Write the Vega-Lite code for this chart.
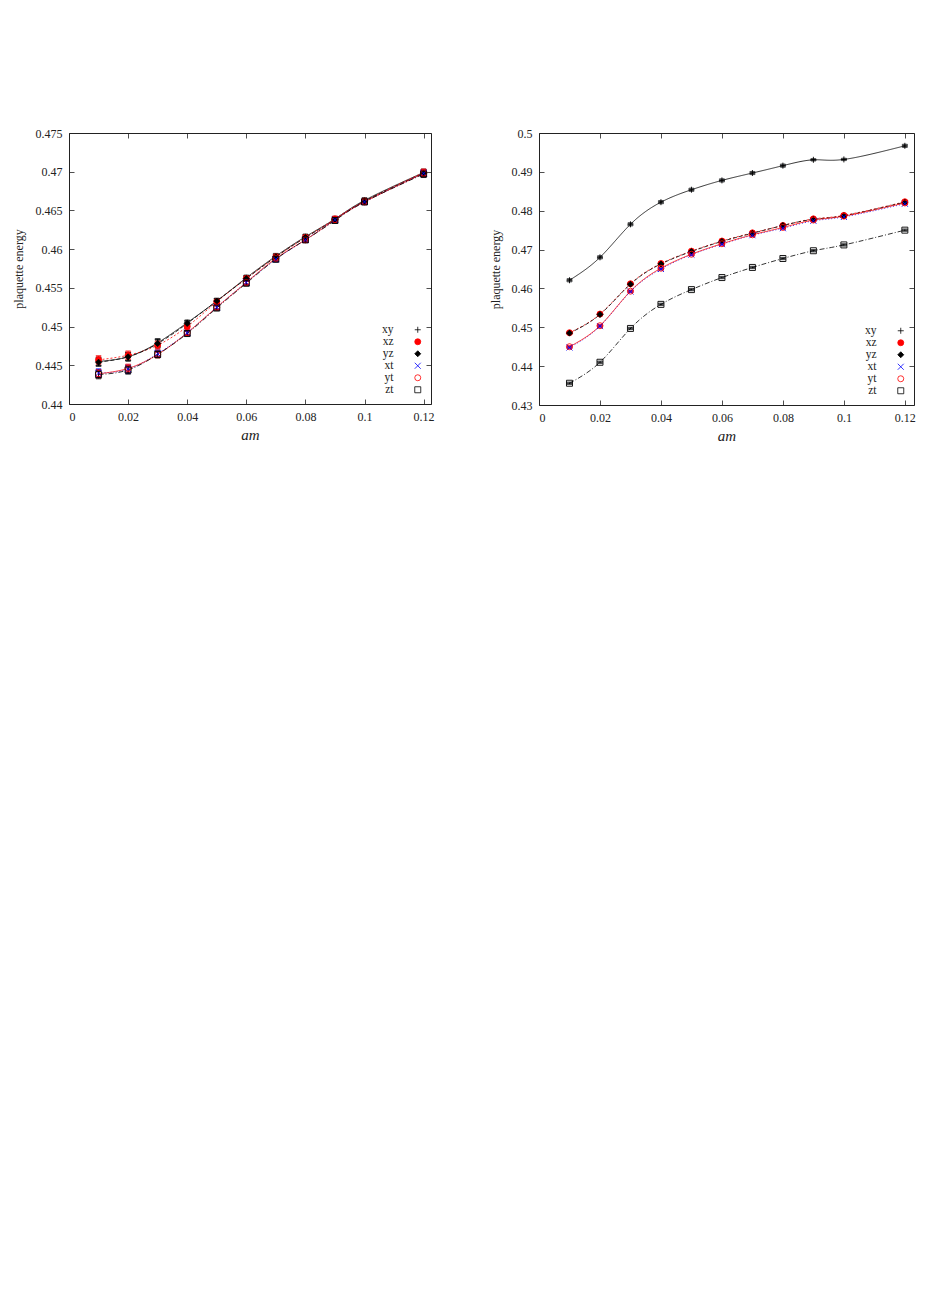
{
"$schema": "https://vega.github.io/schema/vega-lite/v6.json",
"padding": {"left": 11, "top": 126, "right": 5, "bottom": 5},
"spacing": 53,
"resolve": {"scale": {"color": "independent", "shape": "independent", "fill": "independent", "stroke": "independent", "strokeDash": "independent"}},
"config": {
  "font": "Liberation Serif",
  "view": {"stroke": "#222", "strokeWidth": 1},
  "axis": {"grid": false, "domain": false, "tickColor": "#222", "tickSize": -5, "tickWidth": 0.8, "labelFont": "Liberation Serif", "labelFontSize": 12, "labelColor": "#222", "labelPadding": 12, "titleFont": "Liberation Serif", "titleFontSize": 12, "titleFontWeight": "normal", "titleColor": "#222"},
  "legend": {"labelFont": "Liberation Serif", "labelFontSize": 12, "labelColor": "#222"}
},
"datasets": {
"L": [
{"s":"xy","am":0.01,"e":0.4455,"err":0.0005},{"s":"xy","am":0.02,"e":0.4461,"err":0.0005},{"s":"xy","am":0.03,"e":0.4479,"err":0.0005},{"s":"xy","am":0.04,"e":0.4505,"err":0.0003},{"s":"xy","am":0.05,"e":0.4533,"err":0.0003},{"s":"xy","am":0.06,"e":0.4563,"err":0.0003},{"s":"xy","am":0.07,"e":0.4591,"err":0.0003},{"s":"xy","am":0.08,"e":0.4616,"err":0.0003},{"s":"xy","am":0.09,"e":0.4639,"err":0.0003},{"s":"xy","am":0.10,"e":0.4663,"err":0.0003},{"s":"xy","am":0.12,"e":0.4699,"err":0.0004},
{"s":"xz","am":0.01,"e":0.4457,"err":0.0005},{"s":"xz","am":0.02,"e":0.4463,"err":0.0005},{"s":"xz","am":0.03,"e":0.4476,"err":0.0005},{"s":"xz","am":0.04,"e":0.4500,"err":0.0003},{"s":"xz","am":0.05,"e":0.4532,"err":0.0003},{"s":"xz","am":0.06,"e":0.4562,"err":0.0003},{"s":"xz","am":0.07,"e":0.4590,"err":0.0003},{"s":"xz","am":0.08,"e":0.4615,"err":0.0003},{"s":"xz","am":0.09,"e":0.4639,"err":0.0003},{"s":"xz","am":0.10,"e":0.4662,"err":0.0003},{"s":"xz","am":0.12,"e":0.4699,"err":0.0004},
{"s":"yz","am":0.01,"e":0.4454,"err":0.0005},{"s":"yz","am":0.02,"e":0.4461,"err":0.0005},{"s":"yz","am":0.03,"e":0.4478,"err":0.0005},{"s":"yz","am":0.04,"e":0.4504,"err":0.0003},{"s":"yz","am":0.05,"e":0.4533,"err":0.0003},{"s":"yz","am":0.06,"e":0.4562,"err":0.0003},{"s":"yz","am":0.07,"e":0.4590,"err":0.0003},{"s":"yz","am":0.08,"e":0.4615,"err":0.0003},{"s":"yz","am":0.09,"e":0.4638,"err":0.0003},{"s":"yz","am":0.10,"e":0.4662,"err":0.0003},{"s":"yz","am":0.12,"e":0.4698,"err":0.0004},
{"s":"xt","am":0.01,"e":0.4440,"err":0.0005},{"s":"xt","am":0.02,"e":0.4445,"err":0.0005},{"s":"xt","am":0.03,"e":0.4465,"err":0.0004},{"s":"xt","am":0.04,"e":0.4492,"err":0.0003},{"s":"xt","am":0.05,"e":0.4525,"err":0.0003},{"s":"xt","am":0.06,"e":0.4557,"err":0.0003},{"s":"xt","am":0.07,"e":0.4587,"err":0.0003},{"s":"xt","am":0.08,"e":0.4612,"err":0.0003},{"s":"xt","am":0.09,"e":0.4638,"err":0.0003},{"s":"xt","am":0.10,"e":0.4661,"err":0.0003},{"s":"xt","am":0.12,"e":0.4698,"err":0.0004},
{"s":"yt","am":0.01,"e":0.4439,"err":0.0005},{"s":"yt","am":0.02,"e":0.4446,"err":0.0005},{"s":"yt","am":0.03,"e":0.4464,"err":0.0004},{"s":"yt","am":0.04,"e":0.4492,"err":0.0003},{"s":"yt","am":0.05,"e":0.4525,"err":0.0003},{"s":"yt","am":0.06,"e":0.4557,"err":0.0003},{"s":"yt","am":0.07,"e":0.4588,"err":0.0003},{"s":"yt","am":0.08,"e":0.4612,"err":0.0003},{"s":"yt","am":0.09,"e":0.4638,"err":0.0003},{"s":"yt","am":0.10,"e":0.4661,"err":0.0003},{"s":"yt","am":0.12,"e":0.4698,"err":0.0004},
{"s":"zt","am":0.01,"e":0.4438,"err":0.0005},{"s":"zt","am":0.02,"e":0.4444,"err":0.0005},{"s":"zt","am":0.03,"e":0.4464,"err":0.0004},{"s":"zt","am":0.04,"e":0.4491,"err":0.0003},{"s":"zt","am":0.05,"e":0.4524,"err":0.0003},{"s":"zt","am":0.06,"e":0.4556,"err":0.0003},{"s":"zt","am":0.07,"e":0.4587,"err":0.0003},{"s":"zt","am":0.08,"e":0.4612,"err":0.0003},{"s":"zt","am":0.09,"e":0.4637,"err":0.0003},{"s":"zt","am":0.10,"e":0.4661,"err":0.0003},{"s":"zt","am":0.12,"e":0.4697,"err":0.0004}
],
"R": [
{"s":"xy","am":0.01,"e":0.4621,"err":0.0003},{"s":"xy","am":0.02,"e":0.4680,"err":0.0003},{"s":"xy","am":0.03,"e":0.4765,"err":0.0003},{"s":"xy","am":0.04,"e":0.4822,"err":0.0003},{"s":"xy","am":0.05,"e":0.4854,"err":0.0003},{"s":"xy","am":0.06,"e":0.4878,"err":0.0003},{"s":"xy","am":0.07,"e":0.4897,"err":0.0003},{"s":"xy","am":0.08,"e":0.4916,"err":0.0003},{"s":"xy","am":0.09,"e":0.4931,"err":0.0002},{"s":"xy","am":0.10,"e":0.4932,"err":0.0002},{"s":"xy","am":0.12,"e":0.4967,"err":0.0003},
{"s":"xz","am":0.01,"e":0.4486,"err":0.0002},{"s":"xz","am":0.02,"e":0.4534,"err":0.0002},{"s":"xz","am":0.03,"e":0.4612,"err":0.0002},{"s":"xz","am":0.04,"e":0.4664,"err":0.0002},{"s":"xz","am":0.05,"e":0.4696,"err":0.0002},{"s":"xz","am":0.06,"e":0.4722,"err":0.0002},{"s":"xz","am":0.07,"e":0.4743,"err":0.0002},{"s":"xz","am":0.08,"e":0.4762,"err":0.0002},{"s":"xz","am":0.09,"e":0.4779,"err":0.0002},{"s":"xz","am":0.10,"e":0.4788,"err":0.0002},{"s":"xz","am":0.12,"e":0.4823,"err":0.0002},
{"s":"yz","am":0.01,"e":0.4485,"err":0.0002},{"s":"yz","am":0.02,"e":0.4533,"err":0.0002},{"s":"yz","am":0.03,"e":0.4611,"err":0.0002},{"s":"yz","am":0.04,"e":0.4663,"err":0.0002},{"s":"yz","am":0.05,"e":0.4695,"err":0.0002},{"s":"yz","am":0.06,"e":0.4721,"err":0.0002},{"s":"yz","am":0.07,"e":0.4742,"err":0.0002},{"s":"yz","am":0.08,"e":0.4762,"err":0.0002},{"s":"yz","am":0.09,"e":0.4778,"err":0.0002},{"s":"yz","am":0.10,"e":0.4787,"err":0.0002},{"s":"yz","am":0.12,"e":0.4822,"err":0.0002},
{"s":"xt","am":0.01,"e":0.4448,"err":0.0002},{"s":"xt","am":0.02,"e":0.4503,"err":0.0002},{"s":"xt","am":0.03,"e":0.4592,"err":0.0002},{"s":"xt","am":0.04,"e":0.4650,"err":0.0002},{"s":"xt","am":0.05,"e":0.4687,"err":0.0002},{"s":"xt","am":0.06,"e":0.4714,"err":0.0002},{"s":"xt","am":0.07,"e":0.4737,"err":0.0002},{"s":"xt","am":0.08,"e":0.4755,"err":0.0002},{"s":"xt","am":0.09,"e":0.4774,"err":0.0002},{"s":"xt","am":0.10,"e":0.4784,"err":0.0002},{"s":"xt","am":0.12,"e":0.4818,"err":0.0002},
{"s":"yt","am":0.01,"e":0.4450,"err":0.0002},{"s":"yt","am":0.02,"e":0.4504,"err":0.0002},{"s":"yt","am":0.03,"e":0.4593,"err":0.0002},{"s":"yt","am":0.04,"e":0.4652,"err":0.0002},{"s":"yt","am":0.05,"e":0.4688,"err":0.0002},{"s":"yt","am":0.06,"e":0.4715,"err":0.0002},{"s":"yt","am":0.07,"e":0.4738,"err":0.0002},{"s":"yt","am":0.08,"e":0.4757,"err":0.0002},{"s":"yt","am":0.09,"e":0.4776,"err":0.0002},{"s":"yt","am":0.10,"e":0.4786,"err":0.0002},{"s":"yt","am":0.12,"e":0.4820,"err":0.0002},
{"s":"zt","am":0.01,"e":0.4356,"err":0.0002},{"s":"zt","am":0.02,"e":0.4410,"err":0.0002},{"s":"zt","am":0.03,"e":0.4497,"err":0.0002},{"s":"zt","am":0.04,"e":0.4559,"err":0.0002},{"s":"zt","am":0.05,"e":0.4597,"err":0.0002},{"s":"zt","am":0.06,"e":0.4628,"err":0.0002},{"s":"zt","am":0.07,"e":0.4654,"err":0.0002},{"s":"zt","am":0.08,"e":0.4677,"err":0.0002},{"s":"zt","am":0.09,"e":0.4697,"err":0.0002},{"s":"zt","am":0.10,"e":0.4712,"err":0.0002},{"s":"zt","am":0.12,"e":0.4750,"err":0.0002}
]
},
"hconcat": [
{
 "width": 362, "height": 271,
 "data": {"name": "L"},
 "resolve": {"axis": {"x": "independent", "y": "independent"}},
 "layer": [
  {"mark": {"type": "line", "interpolate": "natural", "strokeWidth": 0.8},
   "encoding": {
    "x": {"field": "am", "type": "quantitative", "scale": {"domain": [0, 0.1225], "nice": false}, "axis": {"orient": "bottom", "values": [0,0.02,0.04,0.06,0.08,0.1,0.12], "format": ".2~f", "title": "am", "titleFontStyle": "italic", "titleFontSize": 15, "titlePadding": 5}},
    "y": {"field": "e", "type": "quantitative", "scale": {"domain": [0.44, 0.475], "nice": false, "zero": false}, "axis": {"orient": "left", "values": [0.44,0.445,0.45,0.455,0.46,0.465,0.47,0.475], "format": ".3~f", "title": "plaquette energy", "titlePadding": 10}},
    "stroke": {"field": "s", "type": "nominal", "scale": {"domain": ["zt","yt","xt","yz","xz","xy"], "range": ["#000000","#ff0000","#0000ff","#000000","#ff0000","#000000"]}, "legend": null},
    "strokeDash": {"field": "s", "type": "nominal", "scale": {"domain": ["zt","yt","xt","yz","xz","xy"], "range": [[5,2,1,2],[1,0],[1,2],[4,2],[2,2],[1,0]]}, "legend": null}
   }},
  {"mark": {"type": "point", "opacity": 0},
   "encoding": {
    "x": {"field": "am", "type": "quantitative", "scale": {"domain": [0, 0.1225], "nice": false}, "axis": {"orient": "top", "values": [0,0.02,0.04,0.06,0.08,0.1,0.12], "labels": false, "title": null}},
    "y": {"field": "e", "type": "quantitative", "scale": {"domain": [0.44, 0.475], "nice": false, "zero": false}, "axis": {"orient": "right", "values": [0.44,0.445,0.45,0.455,0.46,0.465,0.47,0.475], "labels": false, "title": null}}
   }},
  {"mark": {"type": "errorbar", "ticks": {"size": 5}, "thickness": 0.8},
   "encoding": {
    "x": {"field": "am", "type": "quantitative", "scale": {"domain": [0, 0.1225], "nice": false}, "axis": null},
    "y": {"field": "e", "type": "quantitative", "scale": {"domain": [0.44, 0.475], "nice": false, "zero": false}, "axis": null},
    "yError": {"field": "err"},
    "stroke": {"field": "s", "type": "nominal", "scale": {"domain": ["zt","yt","xt","yz","xz","xy"], "range": ["#000000","#ff0000","#0000ff","#000000","#ff0000","#000000"]}, "legend": null}
   }},
  {"mark": {"type": "point", "filled": false, "size": 36, "strokeWidth": 0.9, "opacity": 1},
   "encoding": {
    "x": {"field": "am", "type": "quantitative", "scale": {"domain": [0, 0.1225], "nice": false}, "axis": null},
    "y": {"field": "e", "type": "quantitative", "scale": {"domain": [0.44, 0.475], "nice": false, "zero": false}, "axis": null},
    "color": {"field": "s", "type": "nominal", "scale": {"domain": ["xy","xz","yz","xt","yt","zt"], "range": ["#000000","#ff0000","#000000","#0000ff","#ff0000","#000000"]},
      "legend": {"title": null, "orient": "bottom-right", "offset": 8, "symbolSize": 36, "symbolStrokeWidth": 0.8, "labelAlign": "right", "labelOffset": -30, "rowPadding": -1, "labelFontSize": 11.5}},
    "shape": {"field": "s", "type": "nominal", "scale": {"domain": ["xy","xz","yz","xt","yt","zt"], "range": ["M-1,0H1M0,-1V1","circle","diamond","M-1,-1L1,1M-1,1L1,-1","circle","square"]}},
    "fill": {"field": "s", "type": "nominal", "scale": {"domain": ["xy","xz","yz","xt","yt","zt"], "range": ["transparent","#ff0000","#000000","transparent","transparent","transparent"]}}
   }}
 ]
},
{
 "width": 375, "height": 272,
 "data": {"name": "R"},
 "resolve": {"axis": {"x": "independent", "y": "independent"}},
 "layer": [
  {"mark": {"type": "line", "interpolate": "natural", "strokeWidth": 0.8},
   "encoding": {
    "x": {"field": "am", "type": "quantitative", "scale": {"domain": [0, 0.123], "nice": false}, "axis": {"orient": "bottom", "values": [0,0.02,0.04,0.06,0.08,0.1,0.12], "format": ".2~f", "title": "am", "titleFontStyle": "italic", "titleFontSize": 15, "titlePadding": 5}},
    "y": {"field": "e", "type": "quantitative", "scale": {"domain": [0.43, 0.5], "nice": false, "zero": false}, "axis": {"orient": "left", "values": [0.43,0.44,0.45,0.46,0.47,0.48,0.49,0.5], "format": ".2~f", "title": "plaquette energy", "titlePadding": 9}},
    "stroke": {"field": "s", "type": "nominal", "scale": {"domain": ["zt","yt","xt","yz","xz","xy"], "range": ["#000000","#ff0000","#0000ff","#000000","#ff0000","#000000"]}, "legend": null},
    "strokeDash": {"field": "s", "type": "nominal", "scale": {"domain": ["zt","yt","xt","yz","xz","xy"], "range": [[5,2,1,2],[1,0],[1,2],[4,2],[2,2],[1,0]]}, "legend": null}
   }},
  {"mark": {"type": "point", "opacity": 0},
   "encoding": {
    "x": {"field": "am", "type": "quantitative", "scale": {"domain": [0, 0.123], "nice": false}, "axis": {"orient": "top", "values": [0,0.02,0.04,0.06,0.08,0.1,0.12], "labels": false, "title": null}},
    "y": {"field": "e", "type": "quantitative", "scale": {"domain": [0.43, 0.5], "nice": false, "zero": false}, "axis": {"orient": "right", "values": [0.43,0.44,0.45,0.46,0.47,0.48,0.49,0.5], "labels": false, "title": null}}
   }},
  {"mark": {"type": "errorbar", "ticks": {"size": 5}, "thickness": 0.8},
   "encoding": {
    "x": {"field": "am", "type": "quantitative", "scale": {"domain": [0, 0.123], "nice": false}, "axis": null},
    "y": {"field": "e", "type": "quantitative", "scale": {"domain": [0.43, 0.5], "nice": false, "zero": false}, "axis": null},
    "yError": {"field": "err"},
    "stroke": {"field": "s", "type": "nominal", "scale": {"domain": ["zt","yt","xt","yz","xz","xy"], "range": ["#000000","#ff0000","#0000ff","#000000","#ff0000","#000000"]}, "legend": null}
   }},
  {"mark": {"type": "point", "filled": false, "size": 36, "strokeWidth": 0.9, "opacity": 1},
   "encoding": {
    "x": {"field": "am", "type": "quantitative", "scale": {"domain": [0, 0.123], "nice": false}, "axis": null},
    "y": {"field": "e", "type": "quantitative", "scale": {"domain": [0.43, 0.5], "nice": false, "zero": false}, "axis": null},
    "color": {"field": "s", "type": "nominal", "scale": {"domain": ["xy","xz","yz","xt","yt","zt"], "range": ["#000000","#ff0000","#000000","#0000ff","#ff0000","#000000"]},
      "legend": {"title": null, "orient": "bottom-right", "offset": 8, "symbolSize": 36, "symbolStrokeWidth": 0.8, "labelAlign": "right", "labelOffset": -30, "rowPadding": -1, "labelFontSize": 11.5}},
    "shape": {"field": "s", "type": "nominal", "scale": {"domain": ["xy","xz","yz","xt","yt","zt"], "range": ["M-1,0H1M0,-1V1","circle","diamond","M-1,-1L1,1M-1,1L1,-1","circle","square"]}},
    "fill": {"field": "s", "type": "nominal", "scale": {"domain": ["xy","xz","yz","xt","yt","zt"], "range": ["transparent","#ff0000","#000000","transparent","transparent","transparent"]}}
   }}
 ]
}
]
}
